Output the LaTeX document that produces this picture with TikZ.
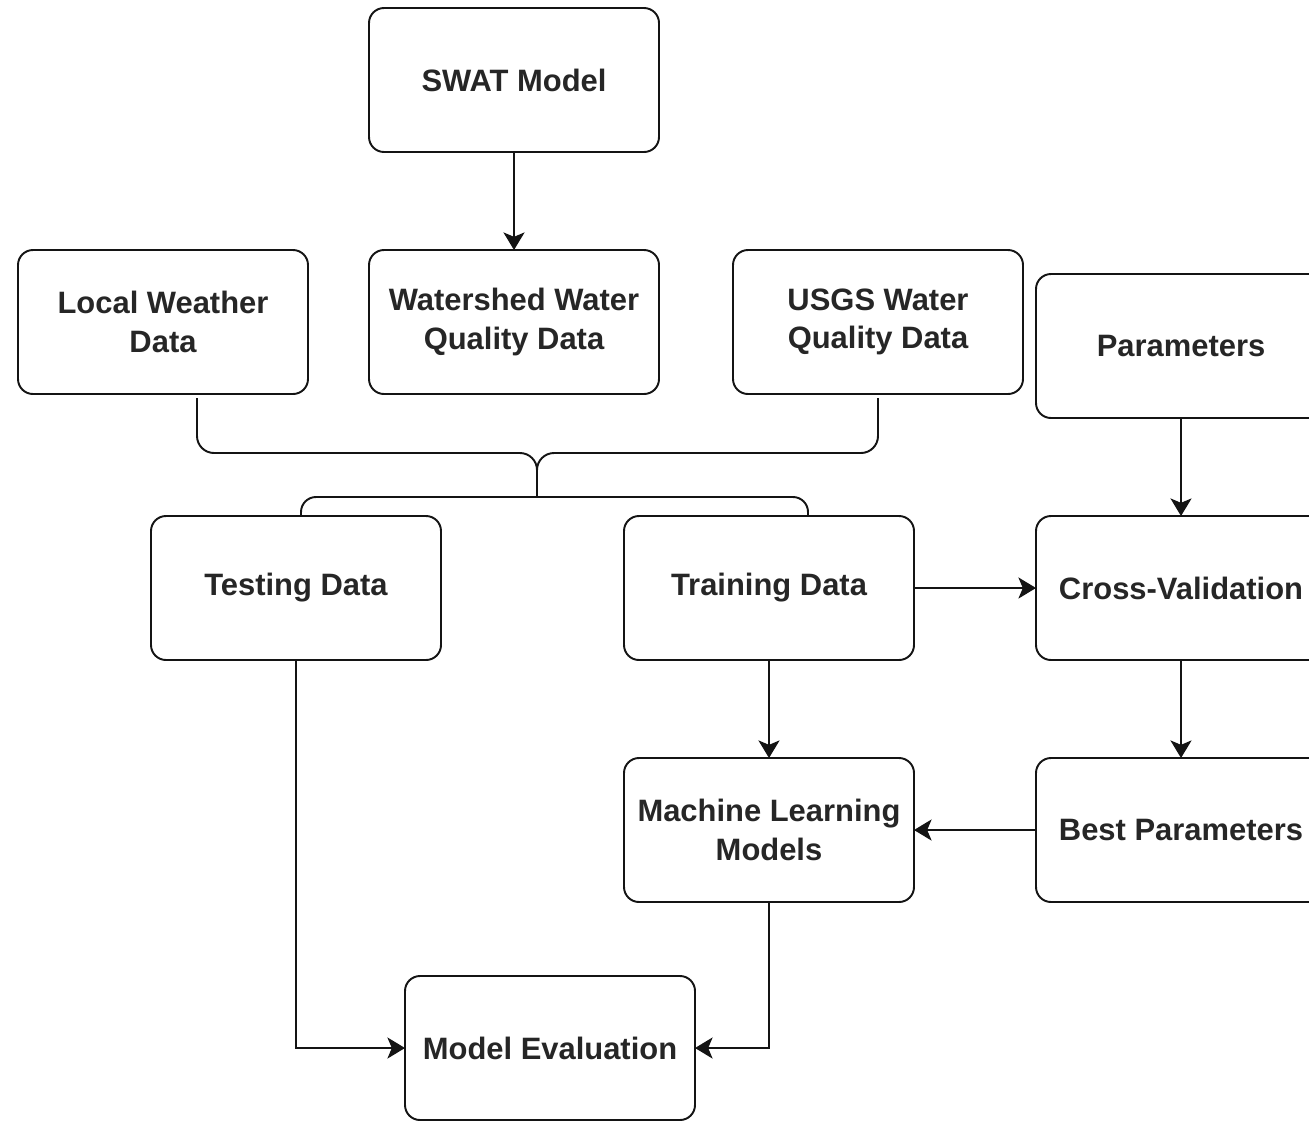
\documentclass[tikz,border=0pt]{standalone}
\usepackage{fontspec}
\setmainfont{Liberation Sans}
\usepackage{tikz}
\usetikzlibrary{arrows.meta,positioning}
\usepackage{xcolor}
\definecolor{boxline}{RGB}{20,20,20}
\definecolor{boxtext}{RGB}{38,38,38}

\begin{document}
\begin{tikzpicture}[
    box/.style={draw=boxline, rectangle, rounded corners=0.3cm, line width=1.1pt, minimum width=5.8cm, minimum height=2.88cm, inner sep=0pt, outer sep=0pt, align=center, text=boxtext, font=\fontsize{17.6}{22}\selectfont\bfseries},
    arrow/.style={-{Stealth[length=10pt, width=12pt, inset=2.5pt]}, line width=1.1pt, draw=boxline},
    brace/.style={line width=1.1pt, draw=boxline, rounded corners=0.34cm}
]
    \useasboundingbox (0,0) rectangle (26.18,-22.48);

    % Data sources
    \node[box] (swat) at (10.28,-1.6) {SWAT Model};
    \node[box] (shed) [below=1.96cm of swat] {Watershed Water\\Quality Data};
    \node[box] (local) [left=1.22cm of shed] {Local Weather\\Data};
    \node[box] (usgs) [right=1.48cm of shed] {USGS Water\\Quality Data};
    \node[box] (param) [right=0.26cm of usgs, yshift=-0.48cm] {Parameters};

    % Split and tuning
    \node[box] (train) [below=2.44cm of usgs, xshift=-2.18cm] {Training Data};
    \node[box] (test) [left=3.66cm of train] {Testing Data};
    \node[box] (cv) [right=2.44cm of train] {Cross-Validation};
    \node[box] (ml) [below=1.96cm of train] {Machine Learning\\Models};
    \node[box] (best) [right=2.44cm of ml] {Best Parameters};
    \node[box] (eval) [below=1.48cm of ml, xshift=-4.38cm] {Model Evaluation};

    % Merge brace and split brace
    \coordinate (bl) at ([xshift=0.68cm, yshift=-0.08cm]local.south);
    \coordinate (br) at ([yshift=-0.08cm]usgs.south);
    \coordinate (mid) at (10.74,-9.06);
    \coordinate (tip) at (10.74,-9.94);
    \draw[brace] (bl) |- (mid) -- (tip);
    \draw[brace] (br) |- (mid) -- (tip);
    \draw[brace, rounded corners=0.3cm] ([xshift=0.1cm]test.north) |- (tip) -| ([xshift=0.78cm]train.north);

    % Connections
    \draw[arrow] (swat) -- (shed);
    \draw[arrow] (param) -- (cv);
    \draw[arrow] (train) -- (cv);
    \draw[arrow] (train) -- (ml);
    \draw[arrow] (cv) -- (best);
    \draw[arrow] (best) -- (ml);
    \draw[arrow] (test) |- (eval);
    \draw[arrow] (ml) |- (eval);
\end{tikzpicture}
\end{document}
